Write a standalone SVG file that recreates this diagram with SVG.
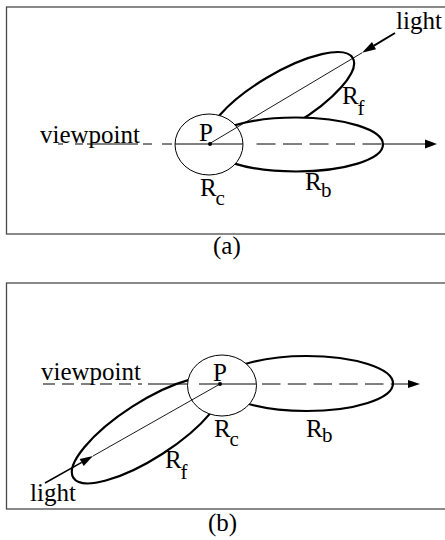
<svg xmlns="http://www.w3.org/2000/svg" width="445" height="540" viewBox="0 0 445 540">
<style>
.frame{fill:none;stroke:#4a4a4a;stroke-width:1.3}
.lobe{fill:#fff;stroke:#000;stroke-width:2.2}
.core{fill:#fff;stroke:#000;stroke-width:1}
.ax{fill:none;stroke:#000;stroke-width:1}
.dash{fill:none;stroke:#000;stroke-width:1}
.thin{fill:none;stroke:#000;stroke-width:0.9}
.thick{fill:none;stroke:#000;stroke-width:2}
.head{fill:#000;stroke:none}
text{font-family:"Liberation Serif","Times New Roman",serif;font-size:25px;fill:#000}
.sub{font-size:21px}
</style>
<g id="panel-a">
<rect class="frame" x="6.5" y="7" width="450" height="227"/>
<g id="a-Rf"><ellipse class="lobe" cx="280.6" cy="101" rx="84" ry="27" transform="rotate(-30.8 280.6 101)"/></g>
<g id="a-Rb"><ellipse class="lobe" cx="296" cy="144.5" rx="87" ry="27"/></g>
<g id="a-Rc"><ellipse class="core" cx="209" cy="144.5" rx="34" ry="30.5"/></g>
<g id="a-connectors">
<path class="dash" d="M58 144H63M75 144H83M87 144H138M143 144H152M162 144H172"/>
<line class="ax" x1="175" y1="144" x2="243" y2="144"/>
<line class="dash" x1="256.5" y1="144" x2="383" y2="144" stroke-dasharray="19 7.5"/>
<line class="ax" x1="383" y1="144" x2="426" y2="144"/>
<polygon class="head" points="437,144 425,139.5 425,148.5"/>
<line class="thin" x1="209" y1="144" x2="362" y2="52.8"/>
<line class="thick" x1="374" y1="45.6" x2="395" y2="33"/>
<polygon class="head" points="362,52.8 376,49.2 372,42"/>
<circle cx="210" cy="144" r="2"/>
</g>
<g id="a-labels">
<text x="40" y="143">viewpoint</text>
<text x="199" y="141">P</text>
<text x="200" y="195.5">R</text><text class="sub" x="215.5" y="204.5">c</text>
<text x="305" y="190">R</text><text class="sub" x="321" y="196.5">b</text>
<text x="342" y="104">R</text><text class="sub" x="357.5" y="115">f</text>
<text x="396" y="29">light</text>
<text x="213" y="254">(a)</text>
</g>
</g>
<g id="panel-b">
<rect class="frame" x="6.5" y="283" width="450" height="226"/>
<g id="b-Rf"><ellipse class="lobe" cx="147.4" cy="430.2" rx="88" ry="28" transform="rotate(-32.8 147.4 430.2)"/></g>
<g id="b-Rb"><ellipse class="lobe" cx="306.5" cy="383.5" rx="86.5" ry="27.5"/></g>
<g id="b-Rc"><ellipse class="core" cx="222" cy="385.5" rx="34.5" ry="30.5"/></g>
<g id="b-connectors">
<line class="dash" x1="43" y1="384" x2="142" y2="384" stroke-dasharray="12 7"/>
<line class="ax" x1="148" y1="384" x2="187" y2="384"/>
<line class="ax" x1="199" y1="384" x2="256" y2="384"/>
<line class="dash" x1="262" y1="384" x2="393" y2="384" stroke-dasharray="18.5 7.25"/>
<line class="ax" x1="393" y1="384" x2="409" y2="384"/>
<polygon class="head" points="420,384 408,380 408,388"/>
<line class="thin" x1="220" y1="384" x2="93" y2="456"/>
<line class="ax" x1="81.7" y1="462.4" x2="45" y2="483" style="stroke-width:1.5"/>
<polygon class="head" points="93,456 83.7,465.9 79.7,458.9"/>
<circle cx="220" cy="384" r="2"/>
</g>
<g id="b-labels">
<text x="41" y="380">viewpoint</text>
<text x="213" y="381">P</text>
<text x="214" y="437">R</text><text class="sub" x="229.5" y="446">c</text>
<text x="306" y="437">R</text><text class="sub" x="322" y="442">b</text>
<text x="165" y="468">R</text><text class="sub" x="180.5" y="479">f</text>
<text x="30" y="501">light</text>
<text x="208" y="531">(b)</text>
</g>
</g>
</svg>
